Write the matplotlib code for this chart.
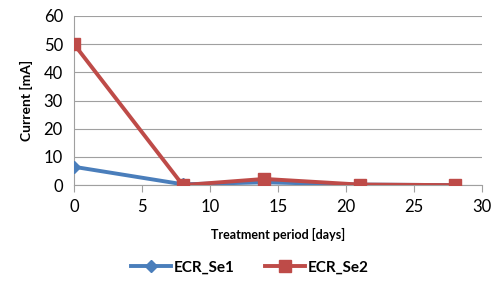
import matplotlib.pyplot as plt

days = [0, 8, 14, 21, 28]
ecr_se1 = [6.5, 0.3, 1.0, 0.2, 0.0]
ecr_se2 = [50.0, 0.0, 2.2, 0.2, 0.0]

plt.rcParams['font.family'] = ['Lato', 'DejaVu Sans']


def main():
    fig = plt.figure(figsize=(5.0, 3.06), dpi=100)
    ax = fig.add_axes([0.148, 0.395, 0.816, 0.553])

    ax.plot(days, ecr_se1, color="#4a7ebb", lw=2.8, marker="D", ms=6,
            label="ECR_Se1", zorder=3)
    ax.plot(days, ecr_se2, color="#be4b48", lw=2.8, marker="s", ms=8,
            label="ECR_Se2", zorder=4)

    ax.set_xlim(0, 30)
    ax.set_ylim(0, 60)
    ax.set_xticks(range(0, 31, 5))
    ax.set_yticks(range(0, 61, 10))
    ax.yaxis.grid(True, color="#a0a0a0", lw=0.8)
    ax.set_axisbelow(True)
    for s in ["top", "right"]:
        ax.spines[s].set_visible(False)
    for s in ["left", "bottom"]:
        ax.spines[s].set_color("#a0a0a0")
    ax.tick_params(axis="x", direction="out", length=5, color="#a0a0a0",
                   labelsize=12, pad=5)
    ax.tick_params(axis="y", length=0, labelsize=12, pad=8)
    ax.set_xlabel("Treatment period [days]", fontsize=9, fontweight="bold",
                  labelpad=9)
    ax.set_ylabel("Current [mA]", fontsize=10, fontweight="bold", labelpad=8)

    fig.legend(loc="center", bbox_to_anchor=(0.5, 0.125), ncol=2,
               frameon=False, prop={"weight": "bold", "size": 11},
               handlelength=2.6, columnspacing=2, handletextpad=0.2)
    fig.savefig("out.png", dpi=100)


if __name__ == "__main__":
    main()
